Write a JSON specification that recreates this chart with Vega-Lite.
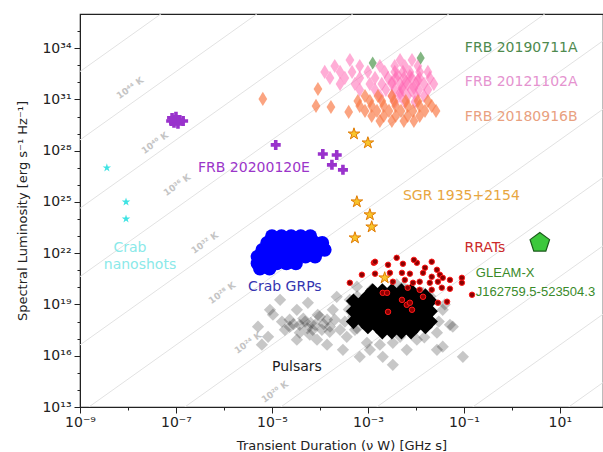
{
"$schema":"https://vega.github.io/schema/vega-lite/v6.json",
"width":523,"height":393,
"autosize":"none",
"padding":{"left":80,"top":14,"right":0,"bottom":45},
"background":"white",
"config":{"font":"DejaVu Sans","view":{"stroke":"#222","strokeWidth":1.2}},
"datasets":{
"tlines":[
{"T":"8","duration":1e-9,"luminosity":4.27e-8},{"T":"8","duration":100,"luminosity":4.27e14},
{"T":"12","duration":1e-9,"luminosity":4.27e-4},{"T":"12","duration":100,"luminosity":4.27e18},
{"T":"16","duration":1e-9,"luminosity":4.27},{"T":"16","duration":100,"luminosity":4.27e22},
{"T":"20","duration":1e-9,"luminosity":4.27e4},{"T":"20","duration":100,"luminosity":4.27e26},
{"T":"24","duration":1e-9,"luminosity":4.27e8},{"T":"24","duration":100,"luminosity":4.27e30},
{"T":"28","duration":1e-9,"luminosity":4.27e12},{"T":"28","duration":100,"luminosity":4.27e34},
{"T":"32","duration":1e-9,"luminosity":4.27e16},{"T":"32","duration":100,"luminosity":4.27e38},
{"T":"36","duration":1e-9,"luminosity":4.27e20},{"T":"36","duration":100,"luminosity":4.27e42},
{"T":"40","duration":1e-9,"luminosity":4.27e24},{"T":"40","duration":100,"luminosity":4.27e46},
{"T":"44","duration":1e-9,"luminosity":4.27e28},{"T":"44","duration":100,"luminosity":4.27e50},
{"T":"48","duration":1e-9,"luminosity":4.27e32},{"T":"48","duration":100,"luminosity":4.27e54}],
"tlabels":[
{"label":"10⁴⁴ K","duration":1.1e-8,"luminosity":4.68e31},
{"label":"10⁴⁰ K","duration":3.63e-8,"luminosity":2.88e28},
{"label":"10³⁶ K","duration":1.05e-7,"luminosity":1e26},
{"label":"10³² K","duration":3.98e-7,"luminosity":4.07e22},
{"label":"10²⁸ K","duration":9.1e-7,"luminosity":4.8e19},
{"label":"10²⁴ K","duration":3.16e-6,"luminosity":5.75e16},
{"label":"10²⁰ K","duration":1.15e-5,"luminosity":7.8e13}],
"pulsars":[
{"duration":9.55e-2,"luminosity":8.7e15},{"duration":3.31e-3,"luminosity":2.95e15},{"duration":2.75e-2,"luminosity":2.24e16},
{"duration":5.13e-2,"luminosity":6.46e17},{"duration":5.13e-6,"luminosity":5.0e17},{"duration":1.05e-5,"luminosity":2.51e18},
{"duration":5.62e-5,"luminosity":1.26e19},{"duration":2.34e-5,"luminosity":5.0e17},{"duration":8.71e-5,"luminosity":8.7e16},
{"duration":3.02e-4,"luminosity":2.24e16},{"duration":6.76e-4,"luminosity":8.7e15},{"duration":9.55e-4,"luminosity":5.75e16},
{"duration":2.04e-3,"luminosity":8.7e15},{"duration":6.46e-3,"luminosity":2.24e16},{"duration":1.62e-4,"luminosity":5.0e17},
{"duration":3.63e-4,"luminosity":1.29e17},{"duration":3.8e-5,"luminosity":2.24e17},{"duration":1.62e-5,"luminosity":9.8e17},
{"duration":8.32e-6,"luminosity":1.29e17},{"duration":1e-4,"luminosity":1.9e18},{"duration":1.86e-4,"luminosity":4.9e18},
{"duration":4.2e-4,"luminosity":1.86e19},{"duration":3.31e-5,"luminosity":4.9e18},{"duration":7.08e-5,"luminosity":3.3e17},
{"duration":1.41e-4,"luminosity":1.29e18},{"duration":4.9e-4,"luminosity":1.9e18},{"duration":1.41e-2,"luminosity":1.9e18},
{"duration":2.75e-2,"luminosity":2.24e17},{"duration":1.05e-2,"luminosity":8.7e16},{"duration":3.31e-3,"luminosity":5.75e16},
{"duration":1.1e-3,"luminosity":2.24e16},{"duration":2.24e-4,"luminosity":2.82e19},{"duration":5.89e-4,"luminosity":1.1e20},
{"duration":5.37e-3,"luminosity":1.1e20},{"duration":1.41e-2,"luminosity":4.8e19},{"duration":3.63e-2,"luminosity":4.9e18},
{"duration":5.89e-2,"luminosity":5.0e17},{"duration":3.63e-2,"luminosity":3.4e16},{"duration":4.9e-5,"luminosity":9.8e17},
{"duration":7.94e-5,"luminosity":6.46e17},{"duration":3.8e-5,"luminosity":6.46e17},{"duration":1.1e-4,"luminosity":3.3e17},
{"duration":6.17e-5,"luminosity":1.7e17},{"duration":2.34e-5,"luminosity":1.29e18},{"duration":1.86e-5,"luminosity":3.3e17},
{"duration":2.04e-4,"luminosity":1.29e18},{"duration":2.63e-4,"luminosity":3.3e17},{"duration":9.1e-6,"luminosity":4.9e18},
{"duration":6.17e-6,"luminosity":4.4e16},{"duration":1.41e-4,"luminosity":4.4e16},{"duration":3.31e-5,"luminosity":8.7e16},
{"duration":5.37e-4,"luminosity":3.3e17},{"duration":3.31e-4,"luminosity":9.8e17},{"duration":1.95e-2,"luminosity":1.86e19},
{"duration":9.55e-3,"luminosity":3.3e17},{"duration":1.78e-3,"luminosity":4.4e16},{"duration":4.68e-3,"luminosity":1.29e17},
{"duration":1.48e-5,"luminosity":1.86e19},{"duration":3.98e-3,"luminosity":1.5e20},{"duration":8e-3,"luminosity":7e19},
{"duration":2e-2,"luminosity":3e19},{"duration":4e-2,"luminosity":1e19},{"duration":3e-2,"luminosity":1e18},
{"duration":1.5e-2,"luminosity":1.2e17},{"duration":6e-4,"luminosity":4e17},{"duration":4e-4,"luminosity":5e18},
{"duration":6e-4,"luminosity":3e19},{"duration":1.2e-3,"luminosity":8e19},{"duration":4.5e-5,"luminosity":1.5e18},
{"duration":6.5e-5,"luminosity":8e17},{"duration":2.8e-5,"luminosity":7e17},{"duration":1.2e-4,"luminosity":7e17},
{"duration":9e-5,"luminosity":2.5e18},{"duration":1.6e-4,"luminosity":2.5e17},{"duration":5.5e-5,"luminosity":4e17}],
"pulsarcore":[
{"duration":1.26e-3,"luminosity":6.31e19},{"duration":2.0e-3,"luminosity":6.31e19},{"duration":3.16e-3,"luminosity":6.31e19},{"duration":5.01e-3,"luminosity":6.31e19},{"duration":7.94e-3,"luminosity":6.31e19},
{"duration":1e-3,"luminosity":3.16e19},{"duration":1.58e-3,"luminosity":3.16e19},{"duration":2.51e-3,"luminosity":3.16e19},{"duration":3.98e-3,"luminosity":3.16e19},{"duration":6.31e-3,"luminosity":3.16e19},{"duration":1e-2,"luminosity":3.16e19},{"duration":1.58e-2,"luminosity":3.16e19},
{"duration":5.01e-4,"luminosity":1.58e19},{"duration":7.94e-4,"luminosity":1.58e19},{"duration":1.26e-3,"luminosity":1.58e19},{"duration":2.0e-3,"luminosity":1.58e19},{"duration":3.16e-3,"luminosity":1.58e19},{"duration":5.01e-3,"luminosity":1.58e19},{"duration":7.94e-3,"luminosity":1.58e19},{"duration":1.26e-2,"luminosity":1.58e19},{"duration":2.0e-2,"luminosity":1.58e19},
{"duration":6.31e-4,"luminosity":7.94e18},{"duration":1e-3,"luminosity":7.94e18},{"duration":1.58e-3,"luminosity":7.94e18},{"duration":2.51e-3,"luminosity":7.94e18},{"duration":3.98e-3,"luminosity":7.94e18},{"duration":6.31e-3,"luminosity":7.94e18},{"duration":1e-2,"luminosity":7.94e18},{"duration":1.58e-2,"luminosity":7.94e18},
{"duration":5.01e-4,"luminosity":3.98e18},{"duration":7.94e-4,"luminosity":3.98e18},{"duration":1.26e-3,"luminosity":3.98e18},{"duration":2.0e-3,"luminosity":3.98e18},{"duration":3.16e-3,"luminosity":3.98e18},{"duration":5.01e-3,"luminosity":3.98e18},{"duration":7.94e-3,"luminosity":3.98e18},{"duration":1.26e-2,"luminosity":3.98e18},{"duration":2.0e-2,"luminosity":3.98e18},
{"duration":6.31e-4,"luminosity":2.0e18},{"duration":1e-3,"luminosity":2.0e18},{"duration":1.58e-3,"luminosity":2.0e18},{"duration":2.51e-3,"luminosity":2.0e18},{"duration":3.98e-3,"luminosity":2.0e18},{"duration":6.31e-3,"luminosity":2.0e18},{"duration":1e-2,"luminosity":2.0e18},{"duration":1.58e-2,"luminosity":2.0e18},
{"duration":5.01e-4,"luminosity":1e18},{"duration":7.94e-4,"luminosity":1e18},{"duration":1.26e-3,"luminosity":1e18},{"duration":2.0e-3,"luminosity":1e18},{"duration":3.16e-3,"luminosity":1e18},{"duration":5.01e-3,"luminosity":1e18},{"duration":7.94e-3,"luminosity":1e18},{"duration":1.26e-2,"luminosity":1e18},{"duration":2.0e-2,"luminosity":1e18},
{"duration":1e-3,"luminosity":5.01e17},{"duration":1.58e-3,"luminosity":5.01e17},{"duration":2.51e-3,"luminosity":5.01e17},{"duration":3.98e-3,"luminosity":5.01e17},{"duration":6.31e-3,"luminosity":5.01e17},{"duration":1e-2,"luminosity":5.01e17},{"duration":1.58e-2,"luminosity":5.01e17},
{"duration":2.0e-3,"luminosity":2.51e17},{"duration":3.16e-3,"luminosity":2.51e17},{"duration":5.01e-3,"luminosity":2.51e17},{"duration":7.94e-3,"luminosity":2.51e17}],
"crabgrp":[
{"duration":1e-5,"luminosity":1e23},{"duration":1.58e-5,"luminosity":1e23},{"duration":2.51e-5,"luminosity":1e23},{"duration":3.98e-5,"luminosity":1e23},{"duration":6.31e-5,"luminosity":1e23},
{"duration":7.94e-6,"luminosity":3.98e22},{"duration":1.26e-5,"luminosity":3.98e22},{"duration":2.0e-5,"luminosity":3.98e22},{"duration":3.16e-5,"luminosity":3.98e22},{"duration":5.01e-5,"luminosity":3.98e22},{"duration":7.94e-5,"luminosity":3.98e22},{"duration":1.12e-4,"luminosity":3.98e22},
{"duration":6.31e-6,"luminosity":1.58e22},{"duration":1e-5,"luminosity":1.58e22},{"duration":1.58e-5,"luminosity":1.58e22},{"duration":2.51e-5,"luminosity":1.58e22},{"duration":3.98e-5,"luminosity":1.58e22},{"duration":6.31e-5,"luminosity":1.58e22},{"duration":1e-4,"luminosity":1.58e22},{"duration":1.26e-4,"luminosity":1.58e22},
{"duration":5.01e-6,"luminosity":6.31e21},{"duration":7.94e-6,"luminosity":6.31e21},{"duration":1.26e-5,"luminosity":6.31e21},{"duration":2.0e-5,"luminosity":6.31e21},{"duration":3.16e-5,"luminosity":6.31e21},{"duration":5.01e-5,"luminosity":6.31e21},{"duration":7.94e-5,"luminosity":6.31e21},
{"duration":5.01e-6,"luminosity":2.51e21},{"duration":7.94e-6,"luminosity":2.51e21},{"duration":1.26e-5,"luminosity":2.51e21},{"duration":2.0e-5,"luminosity":2.51e21},{"duration":3.16e-5,"luminosity":2.51e21},
{"duration":5.62e-6,"luminosity":1.26e21},{"duration":8.91e-6,"luminosity":1.26e21}],
"rrats":[
{"duration":1.33e-3,"luminosity":2.75e21},{"duration":3.98e-3,"luminosity":5.37e21},{"duration":2.63e-3,"luminosity":2.09e21},{"duration":5.37e-3,"luminosity":2.4e21},
{"duration":1.05e-2,"luminosity":2.75e21},{"duration":2.14e-2,"luminosity":3.16e21},{"duration":1.55e-2,"luminosity":1.41e21},{"duration":2.75e-2,"luminosity":1.07e21},
{"duration":7.5e-4,"luminosity":5.5e20},{"duration":1.41e-3,"luminosity":6.31e20},{"duration":2.88e-3,"luminosity":7.08e20},{"duration":5.13e-3,"luminosity":7.08e20},
{"duration":7.5e-3,"luminosity":6.31e20},{"duration":1.41e-2,"luminosity":7.08e20},{"duration":2.14e-2,"luminosity":4.17e20},{"duration":3.16e-2,"luminosity":5.5e20},
{"duration":4.2e-4,"luminosity":1.86e20},{"duration":3.31e-3,"luminosity":2.14e20},{"duration":5.89e-3,"luminosity":2.75e20},{"duration":8.7e-3,"luminosity":1.86e20},
{"duration":1.2e-2,"luminosity":2.14e20},{"duration":1.95e-2,"luminosity":1.86e20},{"duration":2.88e-2,"luminosity":2.14e20},{"duration":5.13e-2,"luminosity":2.75e20},
{"duration":6.76e-3,"luminosity":9.55e19},{"duration":1.2e-2,"luminosity":7.24e19},{"duration":2.14e-2,"luminosity":7.24e19},{"duration":3.47e-2,"luminosity":9.55e19},
{"duration":5.13e-2,"luminosity":8.3e19},{"duration":9.1e-2,"luminosity":3.63e20},{"duration":9.1e-2,"luminosity":1.86e20},{"duration":0.148,"luminosity":3.7e19},
{"duration":2.88e-2,"luminosity":1.26e19},{"duration":4.47e-2,"luminosity":1.45e19},{"duration":2.04e-3,"luminosity":4.8e19},{"duration":2.51e-3,"luminosity":4.8e19},
{"duration":5.13e-3,"luminosity":1.86e19},{"duration":6.46e-3,"luminosity":9.55e18},{"duration":8.3e-3,"luminosity":4.9e18},{"duration":2.63e-3,"luminosity":3.7e18},
{"duration":7.5e-3,"luminosity":1.26e19},{"duration":1.41e-2,"luminosity":2.82e19},{"duration":3.63e-2,"luminosity":3.63e20},{"duration":1.41e-3,"luminosity":3.16e21},
{"duration":9.1e-3,"luminosity":4.07e21}],
"sgr":[
{"duration":5.13e-4,"luminosity":9.55e28},{"duration":1e-3,"luminosity":2.88e28},{"duration":5.89e-4,"luminosity":1.02e25},
{"duration":1.1e-3,"luminosity":1.78e24},{"duration":1.2e-3,"luminosity":3.47e23},{"duration":5.37e-4,"luminosity":7.94e22},
{"duration":2.24e-3,"luminosity":3.63e20}],
"frb1102":[
{"duration":4.22e-4,"luminosity":2.04e33},{"duration":4.68e-3,"luminosity":2.04e33},{"duration":8.3e-3,"luminosity":2.04e33},
{"duration":2.04e-4,"luminosity":9.1e32},{"duration":6.76e-4,"luminosity":9.1e32},{"duration":1.78e-3,"luminosity":9.1e32},{"duration":3.63e-3,"luminosity":9.1e32},{"duration":5.89e-3,"luminosity":9.1e32},{"duration":1.1e-2,"luminosity":9.1e32},
{"duration":1.26e-4,"luminosity":4.07e32},{"duration":2.63e-4,"luminosity":4.07e32},{"duration":4.68e-4,"luminosity":4.07e32},{"duration":1.0e-3,"luminosity":4.07e32},{"duration":2.24e-3,"luminosity":4.07e32},{"duration":3.63e-3,"luminosity":4.07e32},{"duration":5.37e-3,"luminosity":4.07e32},{"duration":7.5e-3,"luminosity":4.07e32},{"duration":1.2e-2,"luminosity":4.07e32},{"duration":1.78e-2,"luminosity":4.07e32},
{"duration":1.62e-4,"luminosity":1.82e32},{"duration":3.31e-4,"luminosity":1.82e32},{"duration":6.76e-4,"luminosity":1.82e32},{"duration":1.41e-3,"luminosity":1.82e32},{"duration":2.63e-3,"luminosity":1.82e32},{"duration":3.8e-3,"luminosity":1.82e32},{"duration":5.62e-3,"luminosity":1.82e32},{"duration":8.3e-3,"luminosity":1.82e32},{"duration":1.2e-2,"luminosity":1.82e32},{"duration":1.95e-2,"luminosity":1.82e32},
{"duration":2.63e-4,"luminosity":8.1e31},{"duration":5.37e-4,"luminosity":8.1e31},{"duration":1.1e-3,"luminosity":8.1e31},{"duration":1.95e-3,"luminosity":8.1e31},{"duration":3.16e-3,"luminosity":8.1e31},{"duration":4.68e-3,"luminosity":8.1e31},{"duration":6.76e-3,"luminosity":8.1e31},{"duration":1e-2,"luminosity":8.1e31},{"duration":1.48e-2,"luminosity":8.1e31},{"duration":2.37e-2,"luminosity":8.1e31},
{"duration":6.76e-4,"luminosity":3.63e31},{"duration":1.41e-3,"luminosity":3.63e31},{"duration":2.37e-3,"luminosity":3.63e31},{"duration":3.63e-3,"luminosity":3.63e31},{"duration":5.37e-3,"luminosity":3.63e31},{"duration":7.94e-3,"luminosity":3.63e31},{"duration":1.15e-2,"luminosity":3.63e31},{"duration":1.78e-2,"luminosity":3.63e31},
{"duration":1.78e-3,"luminosity":1.58e31},{"duration":3.16e-3,"luminosity":1.58e31},{"duration":4.68e-3,"luminosity":1.58e31},{"duration":6.76e-3,"luminosity":1.58e31},{"duration":1e-2,"luminosity":1.58e31},{"duration":1.48e-2,"luminosity":1.58e31},
{"duration":3.63e-3,"luminosity":7.08e30},{"duration":5.89e-3,"luminosity":7.08e30},{"duration":9.55e-3,"luminosity":7.08e30},
{"duration":4.22e-3,"luminosity":2.69e32},{"duration":6.17e-3,"luminosity":1.05e32},{"duration":9.1e-3,"luminosity":4.68e31},{"duration":5.13e-3,"luminosity":4.68e31},
{"duration":7.5e-3,"luminosity":2.34e32},{"duration":3.16e-3,"luminosity":1.05e32},{"duration":1.1e-2,"luminosity":1.38e32},{"duration":4.68e-3,"luminosity":2.4e31}],
"frb0916":[
{"duration":6.46e-6,"luminosity":1.07e31},{"duration":9.1e-5,"luminosity":4.1e31},{"duration":8.3e-5,"luminosity":4.17e30},{"duration":1.7e-4,"luminosity":3.63e30},{"duration":3.98e-4,"luminosity":1.86e30},
{"duration":8.7e-4,"luminosity":1.58e31},{"duration":1.62e-3,"luminosity":1.58e31},{"duration":3.16e-3,"luminosity":1.58e31},
{"duration":6.17e-4,"luminosity":8.1e30},{"duration":1.1e-3,"luminosity":8.1e30},{"duration":1.95e-3,"luminosity":8.1e30},{"duration":3.47e-3,"luminosity":8.1e30},{"duration":6.17e-3,"luminosity":8.1e30},{"duration":1.1e-2,"luminosity":8.1e30},{"duration":1.78e-2,"luminosity":8.1e30},
{"duration":6.76e-4,"luminosity":4.17e30},{"duration":1.2e-3,"luminosity":4.17e30},{"duration":2.14e-3,"luminosity":4.17e30},{"duration":3.8e-3,"luminosity":4.17e30},{"duration":6.76e-3,"luminosity":4.17e30},{"duration":1.2e-2,"luminosity":4.17e30},{"duration":2.14e-2,"luminosity":4.17e30},
{"duration":8.7e-4,"luminosity":2.14e30},{"duration":1.55e-3,"luminosity":2.14e30},{"duration":2.75e-3,"luminosity":2.14e30},{"duration":4.9e-3,"luminosity":2.14e30},{"duration":8.7e-3,"luminosity":2.14e30},{"duration":1.55e-2,"luminosity":2.14e30},{"duration":2.63e-2,"luminosity":2.14e30},
{"duration":1.2e-3,"luminosity":1.09e30},{"duration":2.14e-3,"luminosity":1.09e30},{"duration":3.8e-3,"luminosity":1.09e30},{"duration":6.76e-3,"luminosity":1.09e30},{"duration":1.2e-2,"luminosity":1.09e30},
{"duration":1.78e-3,"luminosity":5.5e29},{"duration":3.16e-3,"luminosity":5.5e29},{"duration":5.62e-3,"luminosity":5.5e29},{"duration":9.1e-3,"luminosity":5.5e29}],
"frb0711":[{"duration":1.26e-3,"luminosity":1.35e33},{"duration":1.26e-2,"luminosity":2.69e33}],
"frb0120":[
{"duration":8.3e-8,"luminosity":8.3e29},{"duration":1e-7,"luminosity":9.55e29},{"duration":1.2e-7,"luminosity":6.31e29},{"duration":9.1e-8,"luminosity":4.27e29},
{"duration":1.1e-7,"luminosity":3.72e29},{"duration":1.41e-7,"luminosity":5.5e29},{"duration":7.94e-8,"luminosity":5.5e29},
{"duration":1.2e-5,"luminosity":2.19e28},{"duration":1.15e-4,"luminosity":6.46e27},{"duration":2.24e-4,"luminosity":5.62e27},
{"duration":1.78e-4,"luminosity":1.48e27},{"duration":3.02e-4,"luminosity":7.59e26}],
"nanoshots":[{"duration":3.63e-9,"luminosity":1e27},{"duration":9.1e-9,"luminosity":1e25},{"duration":9.1e-9,"luminosity":1.02e24}],
"gleam":[{"duration":3.83,"luminosity":4.07e22}],
"labels_left":[
{"label":"FRB 20190711A","group":"g0711","duration":0.105,"luminosity":1.02e34},
{"label":"FRB 20121102A","group":"g1102","duration":0.105,"luminosity":1.05e32},
{"label":"FRB 20180916B","group":"g0916","duration":0.105,"luminosity":9.5e29},
{"label":"SGR 1935+2154","group":"sgr","duration":5.37e-3,"luminosity":2.29e25},
{"label":"FRB 20200120E","group":"g0120","duration":2.88e-7,"luminosity":1e27}],
"labels_gleam":[
{"label":"GLEAM-X","group":"gleam","duration":0.178,"luminosity":7.08e20},
{"label":"J162759.5-523504.3","group":"gleam","duration":0.178,"luminosity":5.5e19}],
"labels_center":[
{"label":"Crab","group":"nano","duration":1.1e-8,"luminosity":2.09e22},
{"label":"nanoshots","group":"nano","duration":1.78e-8,"luminosity":2.09e21},
{"label":"Crab GRPs","group":"grp","duration":1.86e-5,"luminosity":1.1e20},
{"label":"Pulsars","group":"psr","duration":3.31e-5,"luminosity":2.29e15},
{"label":"RRATs","group":"rrat","duration":0.275,"luminosity":2.09e22}]
},
"resolve":{"axis":{"x":"independent","y":"independent"}},
"layer":[
{"data":{"name":"tlines"},"mark":{"type":"line","clip":true,"color":"#e2e2e2","strokeWidth":1},
 "encoding":{
  "x":{"field":"duration","type":"quantitative","scale":{"type":"log","domain":[1e-9,79.43]},
   "axis":{"orient":"bottom","values":[1e-9,1e-8,1e-7,1e-6,1e-5,1e-4,1e-3,1e-2,1e-1,1,10],"labels":false,"title":null,"domain":false,"tickSize":3,"tickColor":"#222","grid":false}},
  "y":{"field":"luminosity","type":"quantitative","scale":{"type":"log","domain":[1e13,1e36]},
   "axis":{"orient":"left","values":[1e13,1e14,1e15,1e16,1e17,1e18,1e19,1e20,1e21,1e22,1e23,1e24,1e25,1e26,1e27,1e28,1e29,1e30,1e31,1e32,1e33,1e34,1e35],"labels":false,"title":null,"domain":false,"tickSize":3,"tickColor":"#222","grid":false}},
  "detail":{"field":"T","type":"nominal"}}},
{"encoding":{
  "x":{"field":"duration","type":"quantitative","scale":{"type":"log","domain":[1e-9,79.43]},
   "axis":{"orient":"bottom","values":[1e-9,1e-7,1e-5,1e-3,1e-1,10],
    "labelExpr":"round(log(datum.value)/LN10) == -9 ? '10⁻⁹' : round(log(datum.value)/LN10) == -7 ? '10⁻⁷' : round(log(datum.value)/LN10) == -5 ? '10⁻⁵' : round(log(datum.value)/LN10) == -3 ? '10⁻³' : round(log(datum.value)/LN10) == -1 ? '10⁻¹' : '10¹'",
    "tickSize":6,"title":"Transient Duration (ν W) [GHz s]","titleFontSize":13,"titleFontWeight":"normal","titleColor":"#222","titlePadding":10,
    "labelFontSize":14,"labelColor":"#222","labelPadding":2,"labelFlush":false,"labelOverlap":false,
    "domainColor":"#222","tickColor":"#222","grid":false}},
  "y":{"field":"luminosity","type":"quantitative","scale":{"type":"log","domain":[1e13,1e36]},
   "axis":{"orient":"left","values":[1e13,1e16,1e19,1e22,1e25,1e28,1e31,1e34],
    "labelExpr":"round(log(datum.value)/LN10) == 13 ? '10¹³' : round(log(datum.value)/LN10) == 16 ? '10¹⁶' : round(log(datum.value)/LN10) == 19 ? '10¹⁹' : round(log(datum.value)/LN10) == 22 ? '10²²' : round(log(datum.value)/LN10) == 25 ? '10²⁵' : round(log(datum.value)/LN10) == 28 ? '10²⁸' : round(log(datum.value)/LN10) == 31 ? '10³¹' : '10³⁴'",
    "tickSize":6,"title":"Spectral Luminosity [erg s⁻¹ Hz⁻¹]","titleFontSize":13,"titleFontWeight":"normal","titleColor":"#222","titlePadding":12,
    "labelFontSize":14,"labelColor":"#222","labelPadding":3,"labelFlush":false,"labelOverlap":false,
    "domainColor":"#222","tickColor":"#222","grid":false}}},
 "layer":[
{"data":{"name":"tlabels"},"mark":{"type":"text","angle":-35.5,"fontSize":9,"fontWeight":"bold","color":"#c4c4c4","align":"center","baseline":"middle"}, "encoding":{"text":{"field":"label"}}},
{"data":{"name":"pulsars"},"mark":{"type":"point","shape":"diamond","filled":true,"size":150,"color":"#000","opacity":0.22,"clip":true}},
{"data":{"name":"pulsarcore"},"mark":{"type":"point","shape":"diamond","filled":true,"size":230,"color":"#000","opacity":1}},
{"data":{"name":"crabgrp"},"mark":{"type":"point","shape":"circle","filled":true,"size":190,"color":"#0000ff","opacity":1}},
{"data":{"name":"sgr"},"mark":{"type":"point","shape":"M0,-1L0.223,-0.307L0.951,-0.309L0.361,0.117L0.588,0.809L0,0.38L-0.588,0.809L-0.361,0.117L-0.951,-0.309L-0.223,-0.307Z","filled":true,"size":150,"fill":"#f8c42c","stroke":"#e07a00","strokeWidth":1,"opacity":1}},
{"data":{"name":"rrats"},"mark":{"type":"point","shape":"circle","filled":true,"size":30,"fill":"#8b0000","stroke":"#ff1a1a","strokeWidth":1,"opacity":1}},
{"data":{"name":"frb1102"},"mark":{"type":"point","shape":"M0,-1L0.62,0L0,1L-0.62,0Z","filled":true,"size":200,"color":"#ff69b4","opacity":0.55}},
{"data":{"name":"frb0916"},"mark":{"type":"point","shape":"M0,-1L0.62,0L0,1L-0.62,0Z","filled":true,"size":200,"color":"#fa7d4c","opacity":0.7}},
{"data":{"name":"frb0711"},"mark":{"type":"point","shape":"M0,-1L0.62,0L0,1L-0.62,0Z","filled":true,"size":170,"color":"#5a9e5a","opacity":0.75}},
{"data":{"name":"frb0120"},"mark":{"type":"point","shape":"M-0.36,-1H0.36V-0.36H1V0.36H0.36V1H-0.36V0.36H-1V-0.36H-0.36Z","filled":true,"size":100,"color":"#9932cc","opacity":1}},
{"data":{"name":"nanoshots"},"mark":{"type":"point","shape":"M0,-1L0.223,-0.307L0.951,-0.309L0.361,0.117L0.588,0.809L0,0.38L-0.588,0.809L-0.361,0.117L-0.951,-0.309L-0.223,-0.307Z","filled":true,"size":80,"color":"#3fe3e3","opacity":1}},
{"data":{"name":"gleam"},"mark":{"type":"point","shape":"M0,-1L0.951,-0.309L0.588,0.809L-0.588,0.809L-0.951,-0.309Z","filled":true,"size":420,"fill":"#3cc83c","stroke":"#1a5a1a","strokeWidth":1.2,"opacity":1}},
{"data":{"name":"labels_left"},"mark":{"type":"text","fontSize":14,"align":"left","baseline":"middle"},"encoding":{"text":{"field":"label"},"color":{"field":"group","type":"nominal","legend":null,"scale":{"domain":["g0711","g1102","g0916","sgr","g0120","gleam","nano","grp","psr","rrat"],"range":["#4e8a4e","#e593cf","#e9a17f","#e8a640","#9b35c9","#3a8a2a","#8ae9e9","#3535b0","#1a1a1a","#cc2a2a"]}}}},
{"data":{"name":"labels_gleam"},"mark":{"type":"text","fontSize":13,"font":"Liberation Sans","align":"left","baseline":"middle"},"encoding":{"text":{"field":"label"},"color":{"field":"group","type":"nominal","legend":null}}},
{"data":{"name":"labels_center"},"mark":{"type":"text","fontSize":14,"align":"center","baseline":"middle"},"encoding":{"text":{"field":"label"},"color":{"field":"group","type":"nominal","legend":null}}}
 ]}
]
}
